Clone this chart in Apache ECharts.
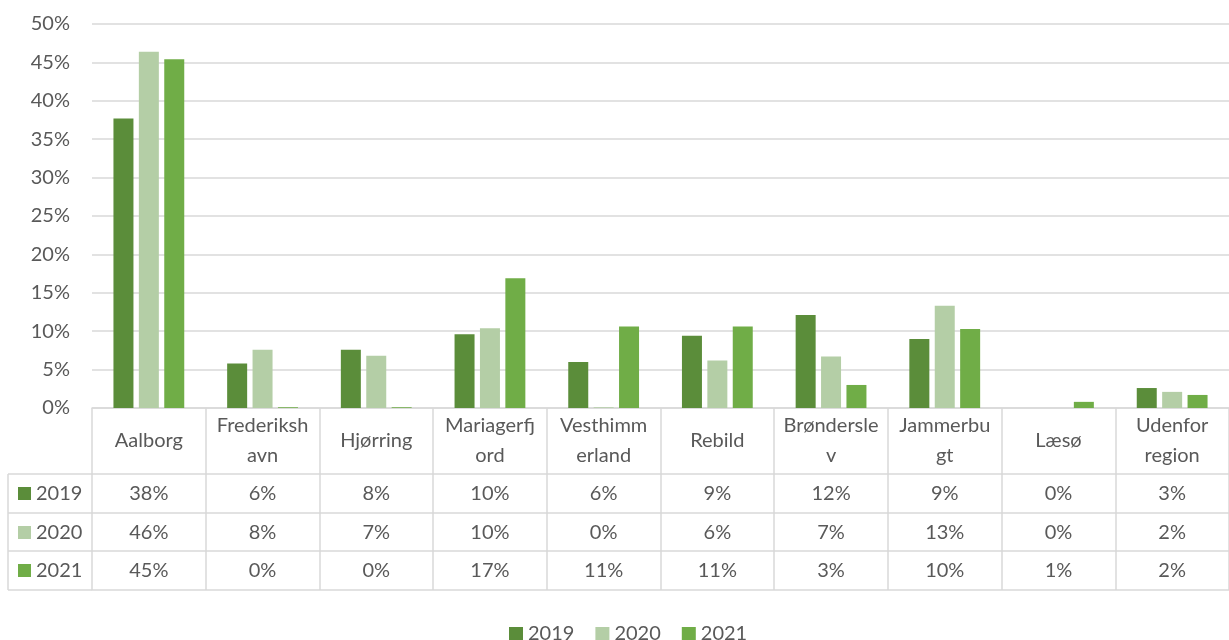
<!DOCTYPE html>
<html>
<head>
<meta charset="utf-8">
<script src="https://cdn.jsdelivr.net/npm/echarts@6/dist/echarts.min.js"></script>
<style>
  html, body { margin: 0; padding: 0; background: #fff; }
  #chart { width: 1229px; height: 640px; }
</style>
</head>
<body>
<div id="chart"></div>
<script>
// data (percent)
var categories = ['Aalborg', 'Frederikshavn', 'Hjørring', 'Mariagerfjord', 'Vesthimmerland', 'Rebild', 'Brønderslev', 'Jammerbugt', 'Læsø', 'Udenfor region']
var categoryLabels = ['Aalborg', 'Frederiksh\navn', 'Hjørring', 'Mariagerfj\nord', 'Vesthimm\nerland', 'Rebild', 'Brøndersle\nv', 'Jammerbu\ngt', 'Læsø', 'Udenfor\nregion']
var years = ['2019', '2020', '2021']
var values2019 = [37.7, 5.8, 7.6, 9.6, 6.0, 9.4, 12.1, 9.0, 0, 2.6]
var values2020 = [46.4, 7.6, 6.8, 10.4, 0.1, 6.2, 6.7, 13.3, 0, 2.1]
var values2021 = [45.4, 0.1, 0.1, 16.9, 10.6, 10.6, 3.0, 10.3, 0.8, 1.7]
var colors = ['#5B8D3A', '#B4CEA6', '#70AD47']

var seriesValues = [values2019, values2020, values2021]
var font = 'Lato, "Open Sans", sans-serif'
var textColor = '#595959'
var lineColor = '#D9D9D9'

// table layout
var axisY = 408
var rowTops = [474, 513, 551]
var tableBottom = 590
var rowH = 39
var headLeft = 8
var plotLeft = 92

var chart = echarts.init(document.getElementById('chart'), null, { renderer: 'canvas' })

var xAxes = [{
    type: 'category',
    data: categories,
    axisLine: { lineStyle: { color: lineColor, width: 1.5 } },
    axisTick: { show: true, interval: 0, length: tableBottom - axisY, lineStyle: { color: lineColor, width: 1.5 } },
    axisLabel: {
        interval: 0,
        margin: 33,
        verticalAlign: 'middle',
        lineHeight: 30,
        color: textColor,
        fontFamily: font,
        fontSize: 20,
        formatter: function (v, i) { return categoryLabels[i] }
    }
}]
// one axis per table row, its line is the row's top border
seriesValues.forEach(function (vals, k) {
    xAxes.push({
        type: 'category',
        position: 'bottom',
        offset: rowTops[k] - axisY,
        data: vals.map(function (v) { return Math.round(v) + '%' }),
        axisLine: { lineStyle: { color: lineColor, width: 1.5 } },
        axisTick: { show: false },
        axisLabel: {
            interval: 0,
            margin: rowH / 2,
            verticalAlign: 'middle',
            color: textColor,
            fontFamily: font,
            fontSize: 20
        }
    })
})
// bottom border of the table
xAxes.push({
    type: 'category',
    position: 'bottom',
    offset: tableBottom - axisY,
    data: categories,
    axisLine: { lineStyle: { color: lineColor, width: 1.5 } },
    axisTick: { show: false },
    axisLabel: { show: false }
})

// row header cells (legend key + year)
var graphics = []
years.forEach(function (y, k) {
    var mid = rowTops[k] + rowH / 2
    graphics.push({
        type: 'rect', shape: { x: 18, y: mid - 6.5, width: 13, height: 13 },
        style: { fill: colors[k] }
    })
    graphics.push({
        type: 'text', x: 36, y: mid,
        style: { text: y, fill: textColor, font: '20px ' + font, verticalAlign: 'middle', align: 'left' }
    })
})
rowTops.concat([tableBottom]).forEach(function (ty) {
    graphics.push({
        type: 'line', shape: { x1: headLeft, y1: ty, x2: plotLeft, y2: ty },
        style: { stroke: lineColor, lineWidth: 1.5 }
    })
})
graphics.push({
    type: 'line', shape: { x1: headLeft, y1: rowTops[0], x2: headLeft, y2: tableBottom },
    style: { stroke: lineColor, lineWidth: 1.5 }
})

chart.setOption({
    animation: false,
    color: colors,
    grid: { left: plotLeft, right: 0, top: 24, bottom: 640 - axisY, containLabel: false },
    legend: {
        data: years,
        left: 504,
        top: 619,
        icon: 'rect',
        itemWidth: 14,
        itemHeight: 14,
        itemGap: 21,
        textStyle: { color: textColor, fontFamily: font, fontSize: 20 }
    },
    xAxis: xAxes,
    yAxis: {
        type: 'value',
        min: 0,
        max: 50,
        interval: 5,
        axisLine: { show: false },
        axisTick: { show: false },
        splitLine: { lineStyle: { color: lineColor, width: 1.5 } },
        axisLabel: {
            margin: 22,
            color: textColor,
            fontFamily: font,
            fontSize: 20,
            formatter: '{value}%'
        }
    },
    series: years.map(function (y, k) {
        return {
            name: y,
            type: 'bar',
            data: seriesValues[k],
            barWidth: 20,
            barGap: '27%',
            itemStyle: { color: colors[k] }
        }
    }),
    graphic: graphics
})
</script>
</body>
</html>
